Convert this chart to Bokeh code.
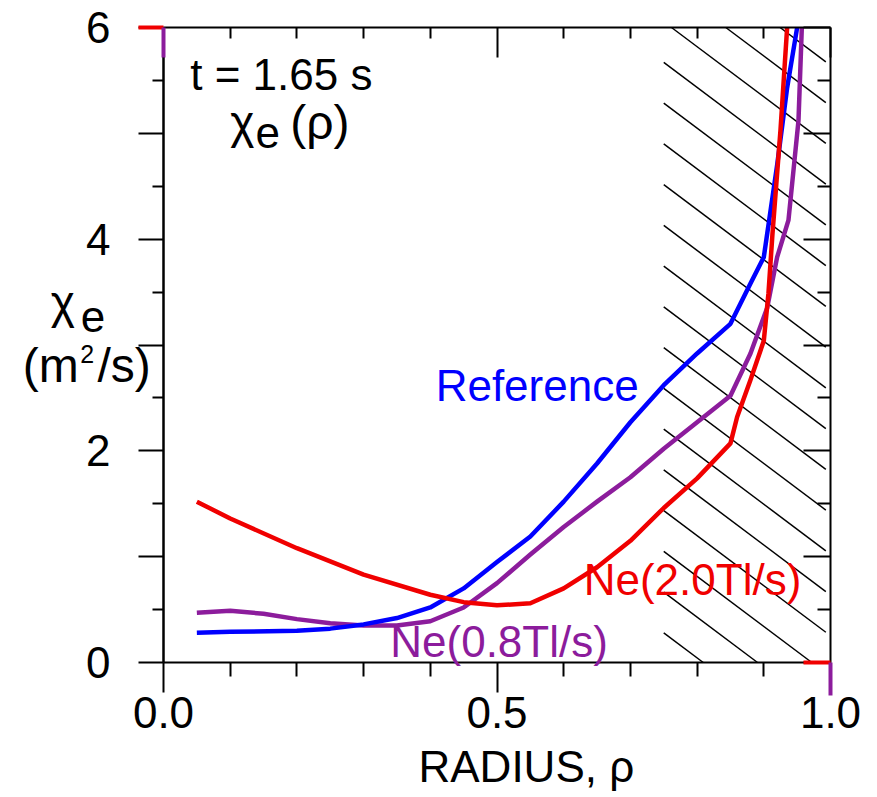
from bokeh.plotting import figure
from bokeh.models import LinearAxis, FixedTicker, Label, Range1d
from bokeh.embed import file_html
from bokeh.resources import INLINE

# ---- data ----
rho_ref = [0.05, 0.10, 0.20, 0.25, 0.30, 0.35, 0.40, 0.45, 0.50, 0.55, 0.60, 0.65,
           0.70, 0.75, 0.80, 0.85, 0.88, 0.90, 0.92, 0.935, 0.95]
chi_ref = [0.28, 0.29, 0.30, 0.32, 0.36, 0.42, 0.52, 0.70, 0.95, 1.19, 1.52, 1.88,
           2.27, 2.62, 2.92, 3.20, 3.58, 3.83, 4.70, 5.43, 6.00]

rho_ne20 = [0.05, 0.10, 0.20, 0.30, 0.40, 0.45, 0.50, 0.55, 0.60, 0.65, 0.70, 0.75,
            0.80, 0.85, 0.86, 0.88, 0.90, 0.907, 0.913, 0.925, 0.935]
chi_ne20 = [1.52, 1.36, 1.08, 0.83, 0.64, 0.57, 0.54, 0.56, 0.70, 0.90, 1.15, 1.46,
            1.74, 2.07, 2.32, 2.67, 3.04, 3.49, 4.05, 5.03, 6.00]

rho_ne08 = [0.05, 0.10, 0.15, 0.20, 0.25, 0.30, 0.35, 0.40, 0.45, 0.50, 0.55, 0.60,
            0.65, 0.70, 0.75, 0.80, 0.85, 0.88, 0.905, 0.92, 0.937, 0.952, 0.957]
chi_ne08 = [0.47, 0.49, 0.46, 0.41, 0.37, 0.35, 0.35, 0.39, 0.52, 0.75, 1.02, 1.28,
            1.52, 1.75, 2.02, 2.27, 2.52, 2.92, 3.35, 3.83, 4.18, 5.12, 6.00]

X_MIN, X_MAX = 0.0, 1.0
Y_MIN, Y_MAX = 0.0, 6.0
y_labeled_ticks = [0, 2, 4, 6]
y_unlabeled_ticks = [1, 3, 5]
y_all_ticks = [0, 1, 2, 3, 4, 5, 6]
y_minor = [0.5, 1.5, 2.5, 3.5, 4.5, 5.5]
x_ticks = [0.0, 0.5, 1.0]
x_tick_labels = {0.0: "0.0", 0.5: "0.5", 1.0: "1.0"}
x_minor = [0.1, 0.2, 0.3, 0.4, 0.6, 0.7, 0.8, 0.9]

# hatched edge region
hatch_x0, hatch_x1 = 0.75, 0.993
hatch_slope = -4.73           # data units
hatch_first, hatch_step, hatch_n = 0.28, 0.385, 19

RED = "#f00000"
BLUE = "#0000ff"
PURPLE = "#8c1c9c"
FONT = "Liberation Sans"
FS = 44
LW = 4.5

# canvas geometry: the data box occupies px 163..830 (x) and 27..662 (y)
W, H = 877, 797
BOX_L, BOX_R, BOX_T, BOX_B = 163, 830, 27, 662
sx = (BOX_R - BOX_L) / (X_MAX - X_MIN)
sy = (BOX_B - BOX_T) / (Y_MAX - Y_MIN)
x_range = Range1d(X_MIN - BOX_L / sx, X_MAX + (W - BOX_R) / sx)
y_range = Range1d(Y_MIN - (H - BOX_B) / sy, Y_MAX + BOX_T / sy)

p = figure(width=W, height=H, x_range=x_range, y_range=y_range,
           output_backend="svg", toolbar_location=None,
           x_axis_location=None, y_axis_location=None,
           min_border=0)
p.grid.visible = False
p.outline_line_color = None
p.background_fill_color = "white"
p.border_fill_color = "white"

LEFT_MAJOR, LEFT_MINOR = 25, 11
BOT_MAJOR, BOT_MINOR = 30, 14
TOP_MAJOR, TOP_MINOR = 30, 11
RIGHT_MAJOR, RIGHT_MINOR = 27, 13


def make_axis(loc, bounds, ticks, minor, tick_out, tick_in, mtick_out, mtick_in,
              labels=True, overrides=None):
    ax = LinearAxis(fixed_location=loc, bounds=bounds,
                    ticker=FixedTicker(ticks=ticks, minor_ticks=minor))
    if overrides:
        ax.major_label_overrides = overrides
    ax.axis_line_color = "black"
    ax.axis_line_width = 2
    ax.major_tick_line_color = "black"
    ax.major_tick_line_width = 2
    ax.minor_tick_line_color = "black"
    ax.minor_tick_line_width = 2
    ax.major_tick_out = tick_out
    ax.major_tick_in = tick_in
    ax.minor_tick_out = mtick_out
    ax.minor_tick_in = mtick_in
    ax.major_label_text_font = FONT
    ax.major_label_text_font_size = f"{FS}px"
    ax.major_label_text_color = "black" if labels else None
    return ax


left = make_axis(X_MIN, (Y_MIN, Y_MAX), y_labeled_ticks, y_minor,
                 LEFT_MAJOR, 0, LEFT_MINOR, 0)
left.major_label_standoff = 28
p.add_layout(left, "left")
left2 = make_axis(X_MIN, (Y_MIN, Y_MAX), y_unlabeled_ticks, [],
                  LEFT_MAJOR, 0, 0, 0, labels=False)
p.add_layout(left2, "left")

bottom = make_axis(Y_MIN, (X_MIN, X_MAX), x_ticks, x_minor,
                   BOT_MAJOR, 0, BOT_MINOR, 0, overrides=x_tick_labels)
bottom.major_label_standoff = 4
p.add_layout(bottom, "below")

top = make_axis(Y_MAX, (X_MIN, X_MAX), x_ticks, x_minor,
                0, TOP_MAJOR, 0, TOP_MINOR, labels=False)
p.add_layout(top, "above")

right = make_axis(X_MAX, (Y_MIN, Y_MAX), y_all_ticks, y_minor,
                  0, RIGHT_MAJOR, 0, RIGHT_MINOR, labels=False)
p.add_layout(right, "right")

# hatch lines
hx, hy = [], []
for k in range(hatch_n):
    c = hatch_first + k * hatch_step
    xs = hatch_x0 if c <= Y_MAX else hatch_x0 + (Y_MAX - c) / hatch_slope
    ye_at_x1 = c + hatch_slope * (hatch_x1 - hatch_x0)
    xe = hatch_x1 if ye_at_x1 >= Y_MIN else hatch_x0 + (Y_MIN - c) / hatch_slope
    if xe <= xs:
        continue
    hx.append([xs, xe])
    hy.append([c + hatch_slope * (xs - hatch_x0), c + hatch_slope * (xe - hatch_x0)])
p.multi_line(hx, hy, line_color="black", line_width=1.5)

# curves
p.line(rho_ne08, chi_ne08, line_color=PURPLE, line_width=LW, line_join="round")
p.line(rho_ref, chi_ref, line_color=BLUE, line_width=LW, line_join="round")
p.line(rho_ne20, chi_ne20, line_color=RED, line_width=LW, line_join="round")

# coloured corner ticks seen in the reference
p.segment(x0=[X_MIN - LEFT_MAJOR / sx, X_MAX - RIGHT_MAJOR / sx], y0=[Y_MAX, Y_MIN],
          x1=[X_MIN, X_MAX], y1=[Y_MAX, Y_MIN],
          line_color=RED, line_width=4, level="overlay")
p.segment(x0=[X_MIN, X_MAX], y0=[Y_MAX, Y_MIN],
          x1=[X_MIN, X_MAX], y1=[Y_MAX - TOP_MAJOR / sy, Y_MIN - (BOT_MAJOR + 3) / sy],
          line_color=PURPLE, line_width=4, level="overlay")

BASELINE_FIX = 0.36   # Bokeh's alphabetic baseline sits ~0.36 em lower


def lab(x, y, text, color="black", size=FS, align="left"):
    p.add_layout(Label(x=x, y=y + BASELINE_FIX * size / sy, text=text,
                       text_color=color, text_font=FONT,
                       text_font_size=f"{size}px", text_align=align,
                       text_baseline="alphabetic"))


lab(0.04, 5.41, "t = 1.65 s")
lab(0.100, 4.95, "χ", size=46)
lab(0.138, 4.86, "e")
lab(0.190, 4.94, "(ρ)", size=48)
lab(0.408, 2.47, "Reference", color=BLUE)
lab(0.63, 0.633, "Ne(2.0Tl/s)", color=RED)
lab(0.34, 0.047, "Ne(0.8Tl/s)", color=PURPLE)

# y-axis label
lab(-0.169, 3.25, "χ", size=46)
lab(-0.124, 3.12, "e")
lab(-0.211, 2.64, "(m", size=48)
lab(-0.125, 2.83, "2", size=25)
lab(-0.099, 2.64, "/s)", size=48)

# x-axis label
lab(0.544, -1.13, "RADIUS, ρ", align="center")

open("out.html", "w").write(file_html(p, INLINE))
